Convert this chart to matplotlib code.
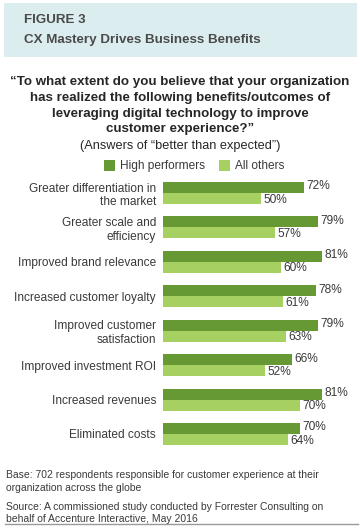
import matplotlib.pyplot as plt
from matplotlib.patches import Rectangle
from matplotlib.lines import Line2D

plt.rcParams["font.family"] = ["Liberation Sans", "DejaVu Sans"]

categories = [
    "Greater differentiation in\nthe market",
    "Greater scale and\nefficiency",
    "Improved brand relevance",
    "Increased customer loyalty",
    "Improved customer\nsatisfaction",
    "Improved investment ROI",
    "Increased revenues",
    "Eliminated costs",
]
high_performers = [72, 79, 81, 78, 79, 66, 81, 70]
all_others = [50, 57, 60, 61, 63, 52, 70, 64]
series_names = ["High performers", "All others"]

question_lines = [
    "\u201cTo what extent do you believe that your organization",
    "has realized the following benefits/outcomes of",
    "leveraging digital technology to improve",
    "customer experience?\u201d",
]
footer_lines = [
    "Base: 702 respondents responsible for customer experience at their",
    "organization across the globe",
    "Source: A commissioned study conducted by Forrester Consulting on",
    "behalf of Accenture Interactive, May 2016",
]

DARK = "#669933"
LIGHT = "#a6d162"
TXT = "#3a3a3a"

W, H = 360, 528
fig = plt.figure(figsize=(W / 100, H / 100), dpi=100)
fig.patch.set_facecolor("white")


def fx(px):
    return px / W


def fy(py):
    return 1 - py / H


# header band
fig.add_artist(Rectangle((fx(4), fy(57)), fx(353), 54 / H,
                         transform=fig.transFigure, facecolor="#dcedf0",
                         edgecolor="none", zorder=0))
fig.text(fx(24), fy(20), "FIGURE 3", fontsize=9.6, fontweight="bold",
         color="#4a4a4a", va="center")
fig.text(fx(24), fy(40), "CX Mastery Drives Business Benefits", fontsize=9.6,
         fontweight="bold", color="#4a4a4a", va="center")

# question
for y, line in zip([82, 98, 114, 129], question_lines):
    fig.text(fx(180), fy(y), line, fontsize=9.6, fontweight="bold",
             color="#262626", ha="center", va="center")
fig.text(fx(180), fy(146), "(Answers of \u201cbetter than expected\u201d)",
         fontsize=9.2, color="#262626", ha="center", va="center")

# legend
for x0, name, col in [(104, series_names[0], DARK), (219, series_names[1], LIGHT)]:
    fig.add_artist(Rectangle((fx(x0), fy(171)), fx(11), 11 / H,
                             transform=fig.transFigure, facecolor=col,
                             edgecolor="none"))
    fig.text(fx(x0 + 16), fy(166), name, fontsize=8.6, color=TXT, va="center")

# bars
ax = fig.add_axes([fx(163), fy(445), fx(196), (445 - 182) / H])
n = len(categories)
pos = list(range(n))
bh = 0.32
ax.barh([p - bh / 2 for p in pos], high_performers, height=bh, color=DARK)
ax.barh([p + bh / 2 for p in pos], all_others, height=bh, color=LIGHT)
for p, hv, ov in zip(pos, high_performers, all_others):
    ax.text(hv + 1.2, p - bh / 2 - 0.03, f"{hv}%", fontsize=8.6, color=TXT,
            va="center", ha="left")
    ax.text(ov + 1.2, p + bh / 2 + 0.03, f"{ov}%", fontsize=8.6, color=TXT,
            va="center", ha="left")
ax.set_xlim(0, 100)
ax.set_ylim(n - 1 + bh, -bh)
ax.set_yticks(pos)
ax.set_yticklabels(categories, fontsize=8.6, color=TXT, linespacing=1.2)
ax.tick_params(axis="y", length=0, pad=5)
ax.set_xticks([])
for s in ax.spines.values():
    s.set_visible(False)
ax.patch.set_alpha(0)

# footer
for y, line in zip([475, 488, 507, 519], footer_lines):
    fig.text(fx(6), fy(y), line, fontsize=7.5, color=TXT, va="center")
fig.add_artist(Line2D([fx(5), fx(358)], [fy(524), fy(524)],
                      transform=fig.transFigure, color="#9a9a9a", lw=1))

fig.savefig("out.png", dpi=100)
